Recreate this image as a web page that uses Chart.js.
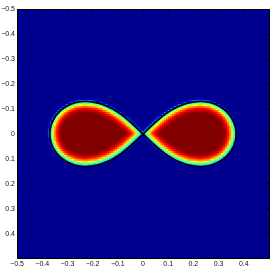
<!DOCTYPE html>
<html><head><meta charset="utf-8">
<script src="https://cdn.jsdelivr.net/npm/chart.js@4"></script>
<style>html,body{margin:0;padding:0;background:#fff}canvas{display:block}</style>
</head><body>
<canvas id="c" width="273" height="268"></canvas>
<script>
// Tick values (labels drawn at these positions)
const xTicks = [-0.5, -0.4, -0.3, -0.2, -0.1, 0, 0.1, 0.2, 0.3, 0.4];
const yTicks = [-0.5, -0.4, -0.3, -0.2, -0.1, 0, 0.1, 0.2, 0.3, 0.4];
// Black contour, one quadrant of the figure-eight
const contourX = [0.370, 0.3658, 0.3532, 0.3326, 0.3043, 0.2689, 0.2266, 0.1772, 0.1434, 0.1181, 0.0889, 0.0614, 0.0349, 0];
const contourY = [0, 0.0320, 0.0623, 0.0891, 0.1108, 0.1254, 0.1308, 0.1241, 0.1120, 0.0991, 0.0800, 0.0583, 0.0343, 0];
// Field level across the interface: distance inside the contour (px) -> level (0..1)
const profileDist  = [-3, -2, -1, 0, 1, 2, 3, 4, 5, 6, 7, 8, 10, 12];
const profileLevel = [0, 0.03, 0.12, 0.3, 0.37, 0.45, 0.54, 0.63, 0.71, 0.78, 0.84, 0.89, 0.95, 1];
const gridN = 128;

// ---- build figure-eight path from the quadrant ----
const n = contourX.length;
const path = [];
for (let i = n - 1; i >= 0; i--) path.push({x: contourX[i], y: -contourY[i]});
for (let i = 1; i < n; i++) path.push({x: contourX[i], y: contourY[i]});
for (let i = n - 2; i >= 0; i--) path.push({x: -contourX[i], y: -contourY[i]});
for (let i = 1; i < n; i++) path.push({x: -contourX[i], y: contourY[i]});

const SX = 253, SY = 254;
const P = path.map(p => [p.x * SX, p.y * SY]);
function segDist(px, py, ax, ay, bx, by) {
  const dx = bx - ax, dy = by - ay;
  const L = dx * dx + dy * dy;
  let t = L > 0 ? ((px - ax) * dx + (py - ay) * dy) / L : 0;
  t = Math.max(0, Math.min(1, t));
  const qx = ax + t * dx - px, qy = ay + t * dy - py;
  return Math.sqrt(qx * qx + qy * qy);
}
function inside(px, py) {
  let c = false;
  for (let i = 0, j = P.length - 1; i < P.length; j = i++) {
    const [xi, yi] = P[i], [xj, yj] = P[j];
    if ((yi > py) !== (yj > py) && px < (xj - xi) * (py - yi) / (yj - yi) + xi) c = !c;
  }
  return c;
}
function levelAt(d) {
  if (d <= profileDist[0]) return profileLevel[0];
  const m = profileDist.length;
  if (d >= profileDist[m - 1]) return profileLevel[m - 1];
  for (let k = 1; k < m; k++) {
    if (d <= profileDist[k]) {
      const t = (d - profileDist[k - 1]) / (profileDist[k] - profileDist[k - 1]);
      return profileLevel[k - 1] + t * (profileLevel[k] - profileLevel[k - 1]);
    }
  }
  return 1;
}
function jet(v) {
  const t = 1 / 64 + v * 63 / 64;
  const c = z => Math.round(255 * Math.max(0, Math.min(1, z)));
  return `rgb(${c(1.5 - Math.abs(4 * t - 3))},${c(1.5 - Math.abs(4 * t - 2))},${c(1.5 - Math.abs(4 * t - 1))})`;
}

const cells = [], colors = [];
for (let j = 0; j < gridN; j++) {
  const y = -0.5 + (j + 0.5) / gridN;
  for (let i = 0; i < gridN; i++) {
    const x = -0.5 + (i + 0.5) / gridN;
    let v = 0;
    if (Math.abs(x) < 0.42 && Math.abs(y) < 0.19) {
      const px = x * SX, py = y * SY;
      let d = Infinity;
      for (let k = 0; k < P.length - 1; k++) d = Math.min(d, segDist(px, py, P[k][0], P[k][1], P[k + 1][0], P[k + 1][1]));
      if (!inside(px, py)) d = -d;
      v = levelAt(d);
    }
    cells.push({x, y});
    colors.push(jet(v));
  }
}

const fmt = v => {
  if (Math.abs(v) < 1e-9) return '0';
  return (v < 0 ? '\u2212' : '') + Math.abs(v).toFixed(1);
};
const tickFont = {family: 'Liberation Sans', size: 7};
const gridOpts = {drawOnChartArea: false, drawTicks: true, tickLength: -3, color: '#000', lineWidth: 1, z: 1};
const borderOpts = {display: true, color: '#000', width: 1, z: 1};

new Chart(document.getElementById('c'), {
  type: 'scatter',
  data: {
    datasets: [
      {data: path, showLine: true, borderColor: '#000', borderWidth: 1.9, pointRadius: 0, tension: 0.35, fill: false, order: 0},
      {data: cells, pointStyle: 'rect', pointRadius: 2.15, pointBackgroundColor: colors, pointBorderWidth: 0, order: 1}
    ]
  },
  options: {
    responsive: false, animation: false, events: [], devicePixelRatio: 1,
    layout: {padding: 0},
    plugins: {legend: {display: false}, tooltip: {enabled: false}},
    scales: {
      x: {type: 'linear', position: 'bottom', min: -0.5, max: 0.5,
        afterBuildTicks: s => { s.ticks = xTicks.map(v => ({value: v})); },
        grid: gridOpts, border: borderOpts,
        ticks: {padding: 4, font: tickFont, color: '#111', maxRotation: 0, autoSkip: false, callback: fmt},
        afterFit: s => { s.height = 9; }},
      x2: {type: 'linear', position: 'top', min: -0.5, max: 0.5,
        afterBuildTicks: s => { s.ticks = xTicks.map(v => ({value: v})); },
        grid: gridOpts, border: borderOpts, ticks: {display: false},
        afterFit: s => { s.height = 5; }},
      y: {type: 'linear', position: 'left', reverse: true, min: -0.5, max: 0.5,
        afterBuildTicks: s => { s.ticks = yTicks.map(v => ({value: v})); },
        grid: gridOpts, border: borderOpts,
        ticks: {padding: 5, font: tickFont, color: '#111', autoSkip: false, callback: fmt},
        afterFit: s => { s.width = 17; }},
      y2: {type: 'linear', position: 'right', reverse: true, min: -0.5, max: 0.5,
        afterBuildTicks: s => { s.ticks = yTicks.map(v => ({value: v})); },
        grid: gridOpts, border: borderOpts, ticks: {display: false},
        afterFit: s => { s.width = 3; }}
    }
  }
});
</script>
</body></html>
